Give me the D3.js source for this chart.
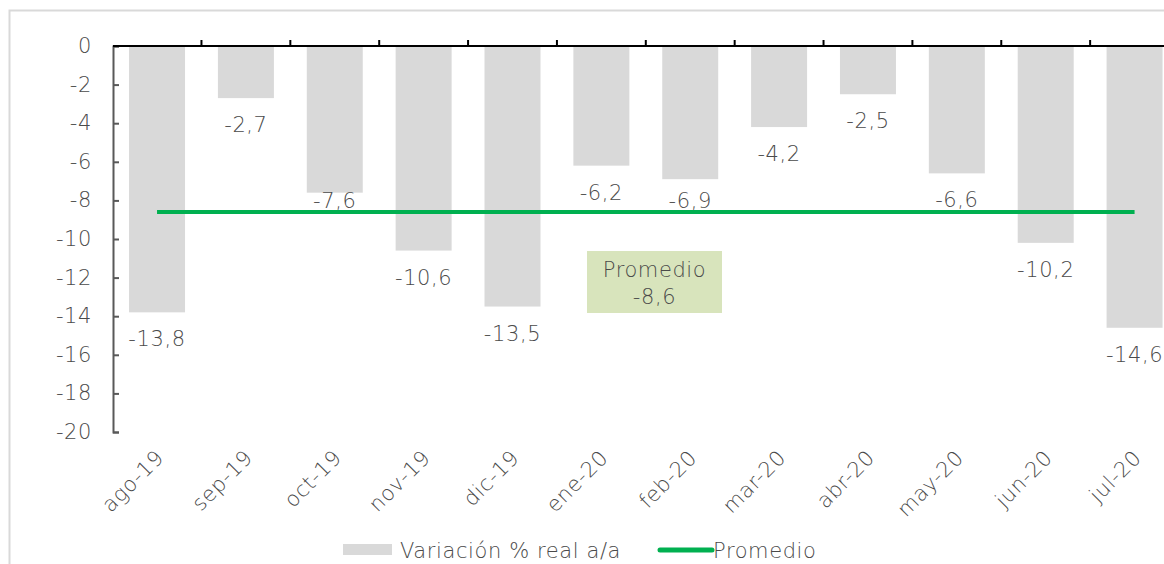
<!DOCTYPE html>
<html>
<head>
<meta charset="utf-8">
<script src="https://cdn.jsdelivr.net/npm/d3@7"></script>
<style>
  body { margin: 0; background: #fff; }
  text { font-family: "DejaVu Sans", sans-serif; font-weight: 200; fill: #4a4a4a; font-size: 21px; letter-spacing: 0.6px; }
</style>
</head>
<body>
<div id="chart"></div>
<script>
// datos
var meses = ["ago-19", "sep-19", "oct-19", "nov-19", "dic-19", "ene-20",
             "feb-20", "mar-20", "abr-20", "may-20", "jun-20", "jul-20"];
var variacion = [-13.8, -2.7, -7.6, -10.6, -13.5, -6.2, -6.9, -4.2, -2.5, -6.6, -10.2, -14.6];
var promedio = -8.6;
var yTicks = [0, -2, -4, -6, -8, -10, -12, -14, -16, -18, -20];

var fmt = function(v) { return d3.format(".1f")(v).replace(".", ",").replace("\u2212", "-"); };

var svg = d3.select("#chart")
  .append("svg")
  .attr("width", 1164)
  .attr("height", 564);

// marco
svg.append("rect")
  .attr("x", 9.5).attr("y", 10.5)
  .attr("width", 1200).attr("height", 600)
  .style("fill", "none")
  .style("stroke", "#d9d9d9")
  .style("stroke-width", 2);

var x = d3.scaleBand()
  .domain(meses)
  .range([112.6, 1179])
  .paddingInner(0.37)
  .paddingOuter(0.185);

var y = d3.scaleLinear()
  .domain([0, -20])
  .range([46, 432]);

// barras
svg.selectAll(".bar")
  .data(variacion)
  .enter()
  .append("rect")
  .attr("class", "bar")
  .attr("x", function(d, i) { return x(meses[i]); })
  .attr("y", y(0))
  .attr("width", x.bandwidth())
  .attr("height", function(d) { return y(d) - y(0); })
  .style("fill", "#d9d9d9");

// etiquetas de valor (las que caen sobre la linea se suben)
svg.selectAll(".lbl")
  .data(variacion)
  .enter()
  .append("text")
  .attr("class", "lbl")
  .attr("x", function(d, i) { return x(meses[i]) + x.bandwidth() / 2; })
  .attr("y", function(d) {
    var b = y(d) + 34;
    if (b > y(promedio) - 4 && b < y(promedio) + 22) b = y(promedio) - 4;
    return b;
  })
  .attr("text-anchor", "middle")
  .text(function(d) { return fmt(d); });

// eje y
var yAxis = svg.append("g")
  .attr("transform", "translate(113,0)")
  .call(d3.axisRight(y).tickValues(yTicks).tickSize(6).tickFormat(""));
yAxis.select(".domain").style("stroke", "#595959").style("stroke-width", 2);
yAxis.selectAll(".tick line").style("stroke", "#595959").style("stroke-width", 2);

svg.selectAll(".ylbl")
  .data(yTicks)
  .enter()
  .append("text")
  .attr("class", "ylbl")
  .attr("x", 92)
  .attr("y", function(d) { return y(d) + 7; })
  .attr("text-anchor", "end")
  .text(function(d) { return d; });

// eje x
var bounds = meses.map(function(m) { return x(m) - x.step() * x.paddingInner() / 2; });
svg.append("line")
  .attr("x1", 113).attr("x2", 1164)
  .attr("y1", y(0)).attr("y2", y(0))
  .style("stroke", "#000").style("stroke-width", 2);
svg.selectAll(".xtick")
  .data(bounds.slice(1))
  .enter()
  .append("line")
  .attr("class", "xtick")
  .attr("x1", function(d) { return d; })
  .attr("x2", function(d) { return d; })
  .attr("y1", y(0)).attr("y2", y(0) - 6)
  .style("stroke", "#000").style("stroke-width", 2);

svg.selectAll(".xlbl")
  .data(meses)
  .enter()
  .append("text")
  .attr("class", "xlbl")
  .attr("text-anchor", "end")
  .attr("transform", function(d) {
    return "translate(" + (x(d) + x.bandwidth() / 2 + 8) + ",459) rotate(-45)";
  })
  .text(function(d) { return d; });

// linea promedio
svg.append("line")
  .attr("x1", x(meses[0]) + x.bandwidth() / 2)
  .attr("x2", x(meses[11]) + x.bandwidth() / 2)
  .attr("y1", y(promedio)).attr("y2", y(promedio))
  .style("stroke", "#00b050")
  .style("stroke-width", 4);

// caja promedio
svg.append("rect")
  .attr("x", 587).attr("y", 251)
  .attr("width", 135).attr("height", 62)
  .style("fill", "#d8e4bc");
svg.append("text")
  .attr("x", 654.5).attr("y", 277)
  .attr("text-anchor", "middle")
  .text("Promedio");
svg.append("text")
  .attr("x", 654.5).attr("y", 304)
  .attr("text-anchor", "middle")
  .text(fmt(promedio));

// leyenda
svg.append("rect")
  .attr("x", 343).attr("y", 544)
  .attr("width", 49).attr("height", 11)
  .style("fill", "#d9d9d9");
svg.append("text")
  .attr("x", 400).attr("y", 558)
  .text("Variación % real a/a");
svg.append("line")
  .attr("x1", 660).attr("x2", 712)
  .attr("y1", 550).attr("y2", 550)
  .style("stroke", "#00b050")
  .style("stroke-width", 5)
  .style("stroke-linecap", "round");
svg.append("text")
  .attr("x", 713).attr("y", 558)
  .text("Promedio");
</script>
</body>
</html>
